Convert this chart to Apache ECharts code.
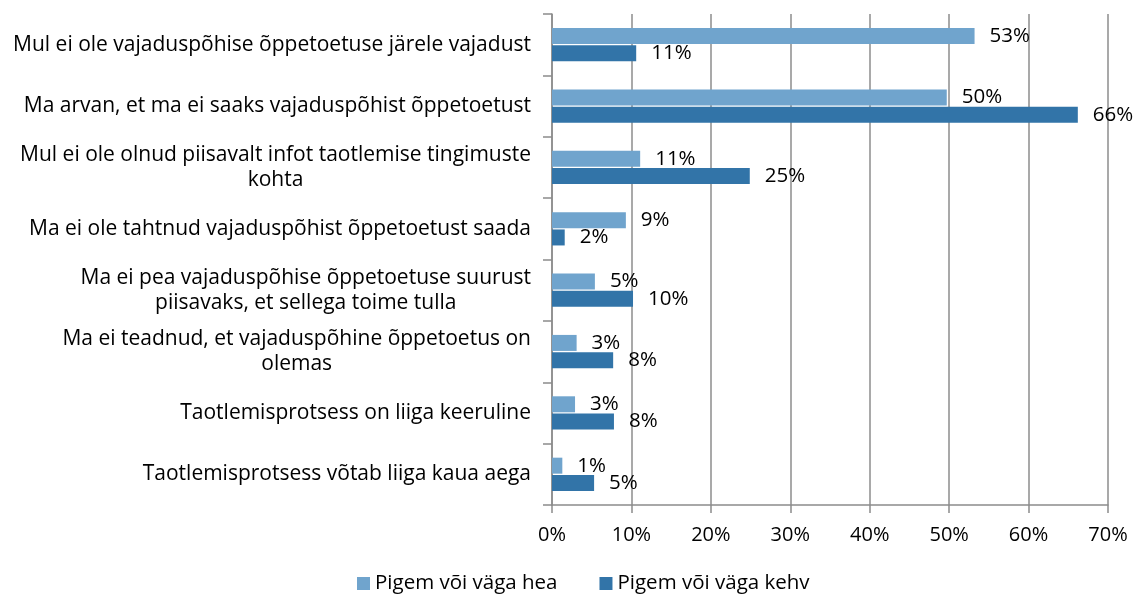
<!DOCTYPE html>
<html>
<head>
<meta charset="utf-8">
<script src="https://cdn.jsdelivr.net/npm/echarts@6/dist/echarts.min.js"></script>
<style>
  html, body { margin: 0; padding: 0; background: #fff; }
  #main { width: 1139px; height: 599px; }
</style>
</head>
<body>
<div id="main"></div>
<script>
// categories, top to bottom
const categories = [
    'Mul ei ole vajaduspõhise õppetoetuse järele vajadust',
    'Ma arvan, et ma ei saaks vajaduspõhist õppetoetust',
    'Mul ei ole olnud piisavalt infot taotlemise tingimuste\nkohta',
    'Ma ei ole tahtnud vajaduspõhist õppetoetust saada',
    'Ma ei pea vajaduspõhise õppetoetuse suurust\npiisavaks, et sellega toime tulla',
    'Ma ei teadnud, et vajaduspõhine õppetoetus on\nolemas',
    'Taotlemisprotsess on liiga keeruline',
    'Taotlemisprotsess võtab liiga kaua aega'
];
const seriesNames = ['Pigem või väga hea', 'Pigem või väga kehv'];
// values
const goodValues = [53.2, 49.7, 11.1, 9.3, 5.4, 3.1, 2.9, 1.3];
const badValues = [10.6, 66.2, 24.9, 1.6, 10.2, 7.7, 7.8, 5.3];
// data label texts as printed in the chart
const goodLabels = ['53%', '50%', '11%', '9%', '5%', '3%', '3%', '1%'];
const badLabels = ['11%', '66%', '25%', '2%', '10%', '8%', '8%', '5%'];

const FONT = 'Open Sans';
const gridColor = '#8c8c8c';

let myChart = echarts.init(document.getElementById('main'));

myChart.setOption({
    animation: false,
    textStyle: { fontFamily: FONT },
    legend: {
        bottom: 0,
        left: 352,
        icon: 'rect',
        itemWidth: 13,
        itemHeight: 13,
        itemGap: 42,
        textStyle: { fontSize: 20.5, color: '#000', fontFamily: FONT },
        data: seriesNames
    },
    grid: {
        left: 552,
        right: 31,
        top: 14,
        bottom: 94
    },
    xAxis: {
        type: 'value',
        min: 0,
        max: 70,
        interval: 10,
        axisLine: { show: true, lineStyle: { color: gridColor, width: 1.5 } },
        axisTick: { show: true, length: 8, lineStyle: { color: gridColor, width: 1.5 } },
        splitLine: { show: true, lineStyle: { color: gridColor, width: 1.5 } },
        axisLabel: {
            formatter: '{value}%',
            fontSize: 20,
            color: '#000',
            margin: 20,
            fontFamily: FONT
        }
    },
    yAxis: {
        type: 'category',
        inverse: true,
        data: categories,
        axisLine: { show: true, lineStyle: { color: gridColor, width: 1.5 } },
        axisTick: { show: true, length: 9, lineStyle: { color: gridColor, width: 1.5 } },
        axisLabel: {
            margin: 21,
            color: '#000',
            fontSize: 21,
            fontFamily: FONT,
            lineHeight: 25,
            formatter: function (v) {
                return v.split('\n').map(function (s) { return '{c|' + s + '}'; }).join('\n');
            },
            rich: {
                c: { align: 'center', fontSize: 21, lineHeight: 25, color: '#000', fontFamily: FONT }
            }
        }
    },
    series: [
        {
            name: seriesNames[0],
            type: 'bar',
            data: goodValues,
            barWidth: 16,
            barGap: '8%',
            itemStyle: { color: '#70a4cd' },
            label: {
                show: true,
                position: 'right',
                distance: 15,
                fontSize: 20.5,
                color: '#000',
                fontFamily: FONT,
                formatter: function (p) { return goodLabels[p.dataIndex]; }
            }
        },
        {
            name: seriesNames[1],
            type: 'bar',
            data: badValues,
            barWidth: 16,
            itemStyle: { color: '#3274a8' },
            label: {
                show: true,
                position: 'right',
                distance: 15,
                fontSize: 20.5,
                color: '#000',
                fontFamily: FONT,
                formatter: function (p) { return badLabels[p.dataIndex]; }
            }
        }
    ]
});
</script>
</body>
</html>
